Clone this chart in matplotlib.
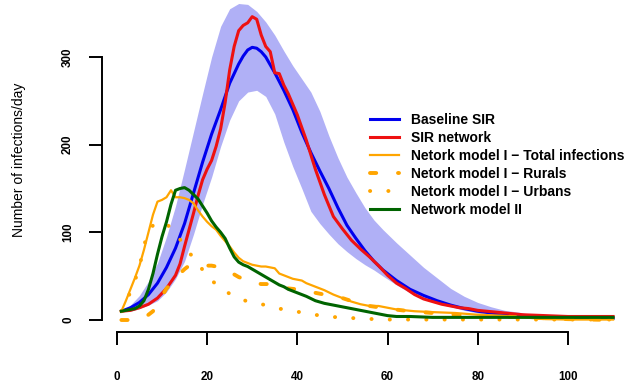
import matplotlib
matplotlib.use("Agg")
import matplotlib.pyplot as plt

plt.rcParams["font.family"] = ["Liberation Sans", "DejaVu Sans"]

# ---------------- data ----------------
band_days = [1, 3, 5, 7, 9, 11, 13, 15, 17, 19, 21, 23, 25, 27, 29, 31, 33, 35, 37, 39,
             41, 43, 45, 47, 49, 51, 53, 55, 57, 59, 62, 65, 68, 71, 74, 77, 80, 83, 86,
             89, 92, 96, 100, 105, 110]
band_upper = [10, 17, 28, 44, 65, 95, 130, 172, 215, 258, 300, 335, 355, 361, 360, 352,
              340, 325, 307, 290, 275, 260, 238, 210, 185, 163, 145, 128, 114, 103, 88,
              74, 60, 48, 36, 27, 20, 15, 11, 9, 6, 4, 3, 2, 2]
band_lower = [10, 10, 13, 17, 22, 32, 47, 67, 98, 132, 163, 198, 228, 250, 260, 262, 255,
              235, 203, 175, 150, 124, 110, 98, 87, 78, 70, 63, 57, 50, 40, 31, 24, 19,
              15, 11, 8, 6, 5, 4, 3, 2, 2, 1, 1]

sir_days = [1, 3, 5, 7, 9, 11, 13, 15, 17, 19, 21, 23, 25, 27, 28, 29, 30, 31, 32, 33, 35,
            37, 39, 41, 43, 45, 47, 49, 51, 53, 55, 57, 59, 62, 65, 68, 71, 74, 77, 80,
            83, 86, 89, 92, 96, 100, 105, 110]
sir_base = [10, 14, 20, 29, 42, 60, 82, 110, 145, 180, 212, 240, 270, 292, 301, 308, 311,
            310, 306, 300, 282, 262, 240, 214, 191, 170, 150, 128, 108, 93, 79, 67, 57,
            45, 35, 28, 22, 17, 13, 10, 8, 6, 5, 4, 3, 3, 2, 2]

net_days = [1, 3, 5, 7, 9, 11, 13, 14, 15, 16, 17, 18, 19, 20, 21, 22, 23, 24, 25, 26, 27,
            28, 29, 30, 31, 32, 33, 34, 35, 36, 37, 38, 39, 40, 42, 44, 46, 48, 50, 52,
            54, 56, 58, 60, 62, 64, 66, 68, 70, 72, 74, 76, 78, 80, 82, 84, 86, 88, 90,
            95, 100, 105, 110]
sir_net = [10, 11, 14, 18, 25, 36, 51, 64, 84, 103, 122, 142, 160, 172, 182, 198, 218, 248,
           285, 312, 330, 336, 339, 346, 343, 325, 312, 306, 282, 281, 268, 258, 246, 234,
           205, 172, 143, 118, 104, 91, 81, 72, 62, 51, 42, 36, 29, 24, 21, 18, 16, 14,
           13, 11, 10, 9, 8, 7, 6, 5, 4, 4, 4]

tot_days = [1, 2, 3, 4, 5, 6, 7, 8, 9, 10, 11, 12, 13, 14, 15, 16, 17, 18, 19, 20, 21, 22,
            23, 24, 25, 26, 27, 28, 29, 30, 31, 32, 33, 34, 35, 36, 37, 38, 39, 40, 41,
            42, 43, 44, 46, 48, 50, 52, 54, 56, 58, 60, 62, 64, 66, 68, 70, 75, 80, 85,
            90, 95, 100, 105, 110]
total_inf = [10, 22, 35, 48, 62, 80, 100, 120, 135, 137, 140, 148, 140, 140, 139, 137, 133,
             125, 118, 112, 107, 103, 96, 90, 84, 77, 71, 67, 65, 63, 62, 61, 61, 60, 59,
             53, 51, 49, 47, 46, 45, 42, 40, 38, 34, 29, 25, 21, 18, 16, 16, 14, 12, 11,
             10, 9.5, 9, 8, 6, 5, 3, 1, 0.5, 0.5, 0.5]

rur_days = [1, 2, 3, 4, 5, 6, 7, 8, 9, 10, 11, 12, 13, 14, 15, 16, 17, 18, 19, 20, 21, 22,
            23, 24, 25, 26, 27, 28, 29, 30, 32, 34, 36, 38, 40, 42, 44, 46, 48, 50, 53,
            56, 60, 65, 70, 75, 80, 90, 100, 110]
rurals = [0, 0, 0, 0, 1, 3, 6, 10, 18, 27, 36, 41, 47, 53, 58, 62, 63, 63, 62, 62, 62, 61,
          60, 58, 55, 52, 49, 47, 45, 43, 41, 41, 38, 36, 35, 34, 31, 29, 27, 25, 20, 16,
          13, 10, 8, 6, 5, 3, 1, 0]

urb_days = [1, 2, 3, 4, 5, 6, 7, 8, 9, 10, 11, 12, 13, 14, 15, 16, 17, 18, 19, 20, 21, 22,
            23, 24, 25, 26, 27, 28, 29, 30, 31, 33, 35, 37, 39, 41, 43, 45, 47, 49, 51,
            53, 55, 57, 59, 65, 80, 110]
urbans = [10, 20, 32, 45, 60, 85, 100, 108, 111, 112, 110, 104, 99, 92, 84, 77, 71, 66, 57,
          49, 45, 41, 37, 33, 30, 27, 25, 23, 21, 20, 19, 17, 14, 12, 10.5, 8.5, 7, 5, 4,
          3, 2.5, 2, 1.5, 1, 0.5, 0.5, 0.5, 0.5]

m2_days = [1, 2, 3, 4, 5, 6, 7, 8, 9, 10, 11, 12, 13, 14, 15, 16, 17, 18, 19, 20, 21, 22,
           23, 24, 25, 26, 27, 28, 29, 30, 31, 32, 33, 34, 35, 36, 37, 38, 39, 40, 42, 44,
           46, 48, 50, 52, 54, 56, 58, 60, 62, 65, 70, 80, 90, 100, 110]
model2 = [10, 11, 12, 13, 16, 22, 35, 53, 75, 95, 112, 132, 148, 150, 151, 148, 143, 138,
          130, 122, 113, 106, 100, 93, 82, 72, 66, 63, 61, 58, 55, 52, 49, 46, 43, 40, 38,
          35, 33, 31, 27, 22, 19, 17, 15, 13, 11, 9, 7, 5, 4, 4, 3, 3, 3, 3, 3]

labels = ["Baseline SIR", "SIR network", "Netork model I \u2212 Total infections",
          "Netork model I \u2212 Rurals", "Netork model I \u2212 Urbans", "Network model II"]

# ---------------- figure ----------------
fig = plt.figure(figsize=(6.41, 3.88), dpi=100)
ax = fig.add_axes([0.1587, 0.1443, 0.8284, 0.8557])

ax.fill_between(band_days, band_lower, band_upper, color="#B0B0F6", lw=0)

ax.plot(sir_days, sir_base, color="#0000EE", lw=2.2, label=labels[0])
ax.plot(net_days, sir_net, color="#EE1111", lw=2.2, label=labels[1])
ax.plot(tot_days, total_inf, color="#FFA500", lw=1.6, label=labels[2])
ax.plot(rur_days, rurals, color="#FFA500", lw=2.8, ls=(0, (1.6, 5.6)),
        dash_capstyle="round", label=labels[3])
ax.plot(urb_days, urbans, color="#FFA500", lw=2.8, ls=(0, (0.05, 4.65)),
        dash_capstyle="round", label=labels[4])
ax.plot(m2_days, model2, color="#006400", lw=2.2, label=labels[5])

ax.set_xlim(-3.36, 114.36)
ax.set_ylim(-13.7, 365)

for s in ["top", "right"]:
    ax.spines[s].set_visible(False)
ax.spines["left"].set_bounds(0, 300)
ax.spines["bottom"].set_bounds(0, 100)
ax.spines["left"].set_linewidth(1.4)
ax.spines["bottom"].set_linewidth(1.4)

ax.set_xticks([0, 20, 40, 60, 80, 100])
ax.set_yticks([0, 100, 200, 300])
ax.tick_params(axis="x", length=9.4, width=1.4, pad=19, labelsize=8.4)
ax.tick_params(axis="y", length=9.4, width=1.4, pad=10.5, labelsize=8.4,
               labelrotation=90)
for t in ax.get_xticklabels() + ax.get_yticklabels():
    t.set_fontweight("bold")
for t in ax.get_yticklabels():
    t.set_va("center")

ax.set_ylabel("Number of infections/day", fontsize=10, va="center")
ax.yaxis.set_label_coords(-0.1557, 0.518)

ax.legend(loc="upper left", bbox_to_anchor=(370 / 641, 1 - 113 / 388),
          bbox_transform=fig.transFigure, frameon=False, borderpad=0,
          borderaxespad=0, handlelength=2.1, handletextpad=0.85,
          labelspacing=0.29, prop={"weight": "bold", "size": 10})

fig.savefig("out.png", dpi=100)
